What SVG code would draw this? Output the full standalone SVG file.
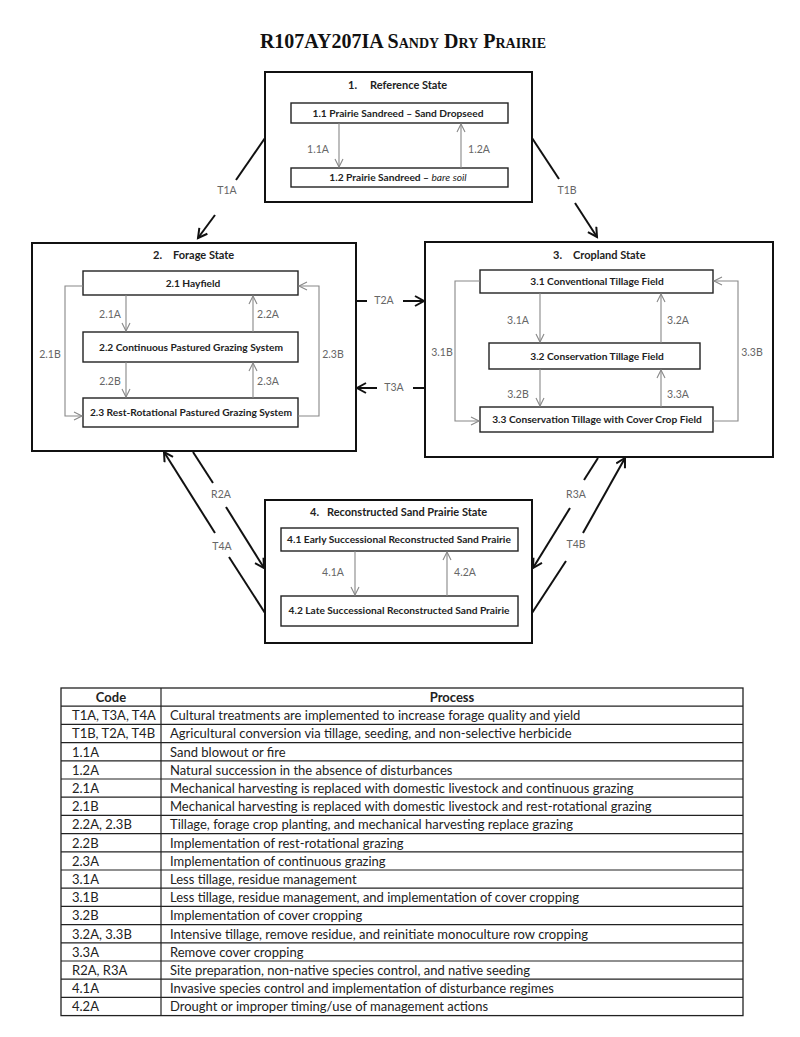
<svg xmlns="http://www.w3.org/2000/svg" width="800" height="1037" viewBox="0 0 800 1037">
<defs>
<style>
.state{fill:#fff;stroke:#111;stroke-width:2}
.phase{fill:#fff;stroke:#222;stroke-width:1.4}
.st{font-family:Lato,"Open Sans",sans-serif;font-weight:bold;font-size:11px;fill:#222}
.ph{font-family:Lato,"Open Sans",sans-serif;font-weight:bold;font-size:10.2px;fill:#222;text-anchor:middle}
.lab{font-family:Lato,"Open Sans",sans-serif;font-size:10.5px;fill:#666;text-anchor:middle}
.inner{fill:none;stroke:#888;stroke-width:1.1;marker-end:url(#ga)}
.outer{fill:none;stroke:#111;stroke-width:2}
.oa{marker-end:url(#ba)}
.tb{font-family:Lato,"Open Sans",sans-serif;font-size:13px;fill:#222}
.th{font-family:Lato,"Open Sans",sans-serif;font-size:13px;font-weight:bold;fill:#222;text-anchor:middle}
.tl{stroke:#222;stroke-width:1.2}
</style>
<marker id="ga" markerUnits="userSpaceOnUse" markerWidth="12" markerHeight="12" refX="9" refY="5" orient="auto"><path d="M1,1 L9,5 L1,9" fill="none" stroke="#888" stroke-width="1.1"/></marker>
<marker id="ba" markerUnits="userSpaceOnUse" markerWidth="14" markerHeight="14" refX="11" refY="6" orient="auto"><path d="M2,1 L11,6 L2,11" fill="none" stroke="#111" stroke-width="2"/></marker>
</defs>
<rect width="800" height="1037" fill="#fff"/>
<text x="403" y="48" text-anchor="middle" font-family="'Liberation Serif',serif" font-weight="bold" font-size="20" font-variant="small-caps" fill="#111">R107AY207IA Sandy Dry Prairie</text>

<g id="connectors">
<path class="outer" d="M265,138 L236,180"/>
<path class="outer oa" d="M215,215 L198,238"/>
<text class="lab" x="227" y="194">T1A</text>
<path class="outer" d="M532,138 L559,179"/>
<path class="outer oa" d="M575,203 L597,237"/>
<text class="lab" x="567" y="194">T1B</text>
<path class="outer" d="M356,301 L367,301"/>
<path class="outer oa" d="M403,301 L424,301"/>
<text class="lab" x="384" y="304">T2A</text>
<path class="outer" d="M425,388 L413,388"/>
<path class="outer oa" d="M377,388 L357,388"/>
<text class="lab" x="394" y="391">T3A</text>
<path class="outer" d="M193,452 L213,483"/>
<path class="outer oa" d="M226,507 L264,568"/>
<text class="lab" x="221" y="498">R2A</text>
<path class="outer" d="M265,613 L229,557"/>
<path class="outer oa" d="M215,533 L164,452"/>
<text class="lab" x="222" y="550">T4A</text>
<path class="outer" d="M598,458 L584,480"/>
<path class="outer oa" d="M570,508 L533,568"/>
<text class="lab" x="576" y="498">R3A</text>
<path class="outer" d="M532,613 L566,561"/>
<path class="outer oa" d="M583,533 L625,458"/>
<text class="lab" x="576" y="548">T4B</text>
</g>

<g id="state1">
<rect class="state" x="265" y="72" width="267" height="130"/>
<text class="st" x="348" y="89">1.</text>
<text class="st" x="370" y="89">Reference State</text>
<g id="p11"><rect class="phase" x="291" y="103" width="217" height="20"/>
<text class="ph" x="398" y="116.5">1.1 Prairie Sandreed – Sand Dropseed</text></g>
<g id="p12"><rect class="phase" x="291" y="168" width="217" height="19"/>
<text class="ph" x="398" y="181">1.2 Prairie Sandreed – <tspan font-style="italic" font-weight="normal">bare soil</tspan></text></g>
<path class="inner" d="M339,123 L339,167"/>
<path class="inner" d="M461,168 L461,124"/>
<text class="lab" x="318" y="153">1.1A</text>
<text class="lab" x="479" y="153">1.2A</text>
</g>

<g id="state2">
<rect class="state" x="32" y="243" width="324" height="208"/>
<text class="st" x="153" y="259">2.</text>
<text class="st" x="173" y="259">Forage State</text>
<g id="p21"><rect class="phase" x="83" y="271" width="215" height="24"/>
<text class="ph" x="193" y="286.5">2.1 Hayfield</text></g>
<g id="p22"><rect class="phase" x="83" y="332" width="215" height="30"/>
<text class="ph" x="191" y="350.5">2.2 Continuous Pastured Grazing System</text></g>
<g id="p23"><rect class="phase" x="83" y="398" width="215" height="29"/>
<text class="ph" x="191" y="416">2.3 Rest-Rotational Pastured Grazing System</text></g>
<path class="inner" d="M126,295 L126,331"/>
<path class="inner" d="M253,332 L253,296"/>
<path class="inner" d="M126,362 L126,397"/>
<path class="inner" d="M253,398 L253,363"/>
<path class="inner" d="M83,286 L65,286 L65,416 L82,416"/>
<path class="inner" d="M298,416 L319,416 L319,286 L299,286"/>
<text class="lab" x="110" y="318">2.1A</text>
<text class="lab" x="268" y="318">2.2A</text>
<text class="lab" x="110" y="385">2.2B</text>
<text class="lab" x="268" y="385">2.3A</text>
<text class="lab" x="50" y="358">2.1B</text>
<text class="lab" x="333" y="358">2.3B</text>
</g>

<g id="state3">
<rect class="state" x="425" y="242" width="348" height="215"/>
<text class="st" x="553" y="259">3.</text>
<text class="st" x="573" y="259">Cropland State</text>
<g id="p31"><rect class="phase" x="480" y="270" width="233" height="23"/>
<text class="ph" x="597" y="285">3.1 Conventional Tillage Field</text></g>
<g id="p32"><rect class="phase" x="489" y="343" width="211" height="26"/>
<text class="ph" x="597" y="359.5">3.2 Conservation Tillage Field</text></g>
<g id="p33"><rect class="phase" x="480" y="407" width="233" height="25"/>
<text class="ph" x="597" y="423">3.3 Conservation Tillage with Cover Crop Field</text></g>
<path class="inner" d="M540,293 L540,342"/>
<path class="inner" d="M661,343 L661,294"/>
<path class="inner" d="M540,369 L540,406"/>
<path class="inner" d="M661,407 L661,370"/>
<path class="inner" d="M480,281 L455,281 L455,421 L479,421"/>
<path class="inner" d="M713,421 L738,421 L738,281 L714,281"/>
<text class="lab" x="518" y="324">3.1A</text>
<text class="lab" x="678" y="324">3.2A</text>
<text class="lab" x="518" y="398">3.2B</text>
<text class="lab" x="678" y="398">3.3A</text>
<text class="lab" x="442" y="356">3.1B</text>
<text class="lab" x="752" y="356">3.3B</text>
</g>

<g id="state4">
<rect class="state" x="265" y="500" width="267" height="143"/>
<text class="st" x="310" y="516">4.</text>
<text class="st" x="327" y="516">Reconstructed Sand Prairie State</text>
<g id="p41"><rect class="phase" x="281" y="528" width="237" height="23"/>
<text class="ph" x="399" y="543">4.1 Early Successional Reconstructed Sand Prairie</text></g>
<g id="p42"><rect class="phase" x="281" y="596" width="237" height="30"/>
<text class="ph" x="399" y="614">4.2 Late Successional Reconstructed Sand Prairie</text></g>
<path class="inner" d="M355,551 L355,595"/>
<path class="inner" d="M447,596 L447,552"/>
<text class="lab" x="333" y="576">4.1A</text>
<text class="lab" x="465" y="576">4.2A</text>
</g>

<g id="table">
<rect x="61" y="688" width="682" height="327.6" fill="#fff" stroke="#222" stroke-width="1.3"/>
<line class="tl" x1="161" y1="688" x2="161" y2="1015.6"/>
<line class="tl" x1="61" y1="706.2" x2="743" y2="706.2"/>
<line class="tl" x1="61" y1="724.4" x2="743" y2="724.4"/>
<line class="tl" x1="61" y1="742.6" x2="743" y2="742.6"/>
<line class="tl" x1="61" y1="760.8" x2="743" y2="760.8"/>
<line class="tl" x1="61" y1="779" x2="743" y2="779"/>
<line class="tl" x1="61" y1="797.2" x2="743" y2="797.2"/>
<line class="tl" x1="61" y1="815.4" x2="743" y2="815.4"/>
<line class="tl" x1="61" y1="833.6" x2="743" y2="833.6"/>
<line class="tl" x1="61" y1="851.8" x2="743" y2="851.8"/>
<line class="tl" x1="61" y1="870" x2="743" y2="870"/>
<line class="tl" x1="61" y1="888.2" x2="743" y2="888.2"/>
<line class="tl" x1="61" y1="906.4" x2="743" y2="906.4"/>
<line class="tl" x1="61" y1="924.6" x2="743" y2="924.6"/>
<line class="tl" x1="61" y1="942.8" x2="743" y2="942.8"/>
<line class="tl" x1="61" y1="961" x2="743" y2="961"/>
<line class="tl" x1="61" y1="979.2" x2="743" y2="979.2"/>
<line class="tl" x1="61" y1="997.4" x2="743" y2="997.4"/>
<text class="th" x="111" y="702">Code</text>
<text class="th" x="452" y="702">Process</text>
<text class="tb" x="72" y="720.2">T1A, T3A, T4A</text><text class="tb" x="170" y="720.2">Cultural treatments are implemented to increase forage quality and yield</text>
<text class="tb" x="72" y="738.4">T1B, T2A, T4B</text><text class="tb" x="170" y="738.4">Agricultural conversion via tillage, seeding, and non-selective herbicide</text>
<text class="tb" x="72" y="756.6">1.1A</text><text class="tb" x="170" y="756.6">Sand blowout or fire</text>
<text class="tb" x="72" y="774.8">1.2A</text><text class="tb" x="170" y="774.8">Natural succession in the absence of disturbances</text>
<text class="tb" x="72" y="793">2.1A</text><text class="tb" x="170" y="793">Mechanical harvesting is replaced with domestic livestock and continuous grazing</text>
<text class="tb" x="72" y="811.2">2.1B</text><text class="tb" x="170" y="811.2">Mechanical harvesting is replaced with domestic livestock and rest-rotational grazing</text>
<text class="tb" x="72" y="829.4">2.2A, 2.3B</text><text class="tb" x="170" y="829.4">Tillage, forage crop planting, and mechanical harvesting replace grazing</text>
<text class="tb" x="72" y="847.6">2.2B</text><text class="tb" x="170" y="847.6">Implementation of rest-rotational grazing</text>
<text class="tb" x="72" y="865.8">2.3A</text><text class="tb" x="170" y="865.8">Implementation of continuous grazing</text>
<text class="tb" x="72" y="884">3.1A</text><text class="tb" x="170" y="884">Less tillage, residue management</text>
<text class="tb" x="72" y="902.2">3.1B</text><text class="tb" x="170" y="902.2">Less tillage, residue management, and implementation of cover cropping</text>
<text class="tb" x="72" y="920.4">3.2B</text><text class="tb" x="170" y="920.4">Implementation of cover cropping</text>
<text class="tb" x="72" y="938.6">3.2A, 3.3B</text><text class="tb" x="170" y="938.6">Intensive tillage, remove residue, and reinitiate monoculture row cropping</text>
<text class="tb" x="72" y="956.8">3.3A</text><text class="tb" x="170" y="956.8">Remove cover cropping</text>
<text class="tb" x="72" y="975">R2A, R3A</text><text class="tb" x="170" y="975">Site preparation, non-native species control, and native seeding</text>
<text class="tb" x="72" y="993.2">4.1A</text><text class="tb" x="170" y="993.2">Invasive species control and implementation of disturbance regimes</text>
<text class="tb" x="72" y="1011.4">4.2A</text><text class="tb" x="170" y="1011.4">Drought or improper timing/use of management actions</text>
</g>
</svg>
